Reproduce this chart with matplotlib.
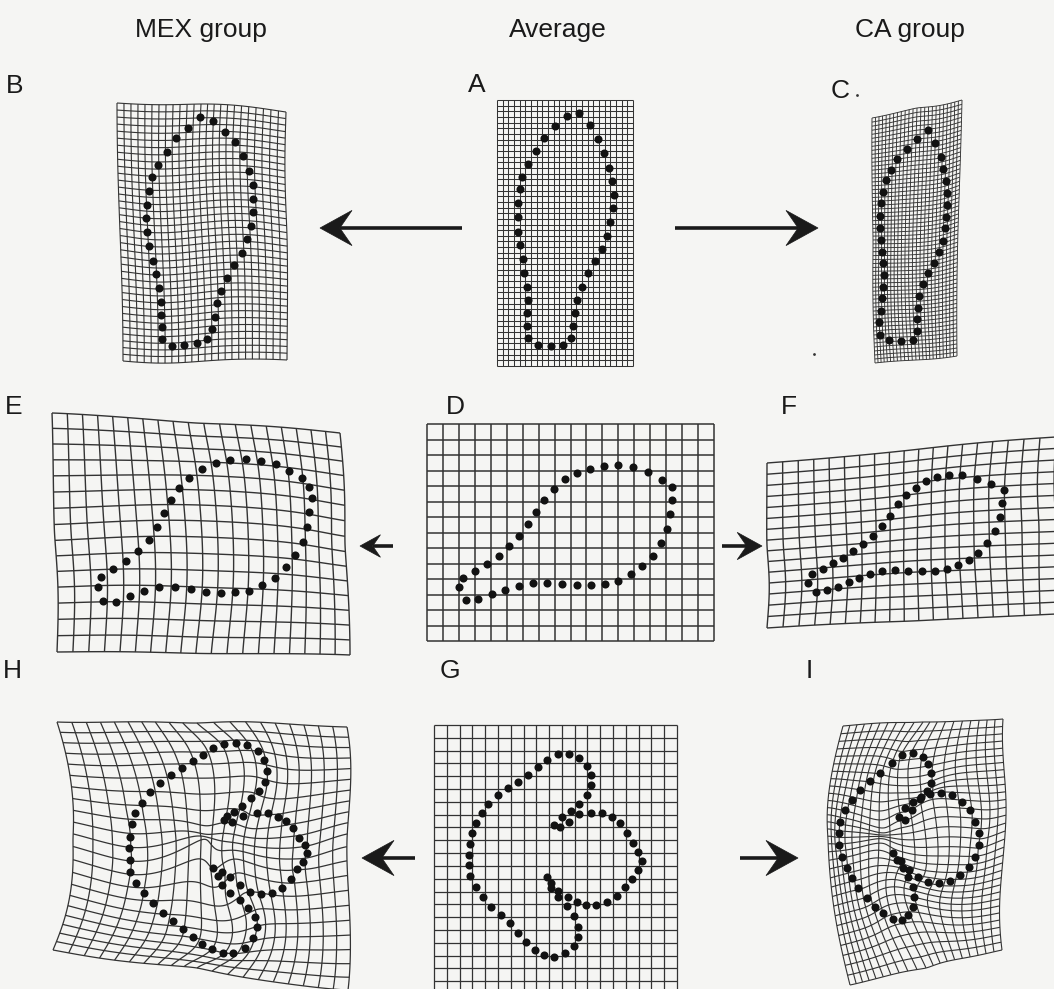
import numpy as np
import matplotlib
matplotlib.use("Agg")
import matplotlib.pyplot as plt
from matplotlib.collections import LineCollection
from matplotlib.patches import Polygon

# ---------------- data (landmark dots) ----------------
# each outline is given in crop coordinates (3x zoom) relative to a crop origin
A_org = (470, 70)
A_zx = [292,328,360,385,403,418,426,431,428,420,410,397,376,354,337,322,315,310,303,280,242,203,175,170,172,173,170,163,158,150,145,143,145,150,157,175,197,223,256]
A_zy = [137,130,165,207,250,293,333,375,415,457,497,537,573,610,650,690,728,768,805,825,828,826,805,768,728,690,650,610,568,525,485,442,400,358,320,282,242,205,168]

B_org = (90, 100)
B_zx = [330,370,404,434,460,478,488,490,490,482,470,455,432,412,393,380,375,367,350,320,283,245,215,215,212,212,208,198,188,178,172,168,170,178,186,205,230,258,293]
B_zy = [52,62,95,126,167,212,255,298,337,378,418,458,495,535,572,608,650,688,716,730,735,737,718,680,645,605,565,522,482,438,397,355,315,272,232,195,155,115,83]

C_org = (820, 90)
C_zx = [325,345,362,370,377,380,380,378,376,370,357,343,325,310,298,293,290,290,278,242,207,180,177,182,185,188,192,190,185,182,180,180,183,190,198,212,232,262,292]
C_zy = [120,158,200,238,272,308,345,380,415,452,485,518,550,583,618,653,688,722,750,752,750,735,695,662,625,590,555,520,485,450,413,378,340,305,270,240,208,178,148]

D_org = (425, 390)
D_zx = [455,495,537,580,625,670,710,740,740,735,725,707,683,650,618,580,540,497,455,410,367,323,282,240,200,160,122,103,115,150,185,222,253,283,308,333,358,388,420]
D_zy = [250,236,228,226,232,247,270,292,330,372,418,460,497,528,552,572,582,585,585,582,580,580,588,600,613,628,630,592,563,543,522,497,467,437,403,367,330,297,268]

E_org = (0, 390)
E_zx = [605,647,690,737,783,828,868,905,928,935,927,920,908,886,858,826,787,747,705,662,617,572,525,478,433,390,348,310,293,302,340,378,415,447,472,492,514,537,568]
E_zy = [238,220,211,208,212,222,242,265,292,323,367,410,455,496,532,565,585,602,607,609,605,598,591,592,604,619,636,634,592,560,538,514,484,450,410,370,330,293,263]

F_org = (740, 390)
F_zx = [498,527,557,590,627,667,710,752,793,785,780,766,742,715,687,655,622,585,545,505,465,427,390,358,326,293,260,228,205,217,250,280,310,340,370,398,425,450,475]
F_zy = [315,293,272,261,254,255,266,283,300,340,382,423,460,488,510,525,538,543,543,543,540,543,552,565,577,590,600,605,580,553,538,520,503,483,462,438,408,377,343]

G_org = (420, 640)
G_zx = [413,447,478,500,512,512,500,478,452,425,403,420,447,478,512,545,575,600,622,640,655,665,655,637,615,590,560,528,497,470,443,415,393,380,392,415,440,462,475,475,462,435,403,372,345,318,295,270,242,213,188,167,150,148,148,150,155,168,185,205,235,263,295,325,355,382]
G_zy = [343,343,353,378,405,435,465,492,512,532,555,562,545,522,518,520,530,550,578,608,635,662,690,717,742,768,785,795,795,785,772,752,730,712,745,772,798,828,860,890,918,940,950,945,930,905,878,850,825,800,770,740,708,675,645,612,580,550,520,492,465,445,425,405,382,360]
G_anchor = [0, 10, 21, 33, 42, 53]

H_org = (30, 640)
H_zx = [582,617,652,683,703,710,706,688,662,637,612,590,583,605,640,680,713,745,768,790,808,825,830,820,800,782,755,725,692,660,630,600,575,550,565,575,600,630,655,675,680,670,645,610,578,545,515,488,460,430,400,370,342,318,300,300,298,300,305,315,335,360,390,422,455,488,520,548]
H_zy = [312,308,315,333,360,393,425,452,475,497,515,528,540,545,527,518,518,530,543,565,595,615,640,665,688,718,745,758,762,755,735,712,695,683,708,735,760,780,803,830,862,893,925,940,940,928,912,890,868,842,818,790,760,728,695,660,625,590,553,520,488,455,428,405,385,362,345,325]
H_anchor = [0, 12, 22, 33, 44, 55]

I_org = (740, 640)
I_zx = [487,520,548,565,573,572,562,542,518,495,478,495,515,540,570,603,635,665,690,706,716,718,706,686,660,630,598,565,535,508,482,460,470,488,505,518,522,518,505,485,458,430,405,380,355,335,320,305,297,296,300,315,335,360,390,420,455]
I_zy = [345,340,350,372,400,428,452,470,485,505,530,540,510,478,462,458,465,485,510,545,580,615,650,680,705,722,730,725,712,690,662,638,660,685,712,742,772,800,825,840,838,820,800,775,745,715,685,650,615,580,545,510,480,450,422,398,370]
I_anchor = [0, 10, 21, 31, 39, 48]

# points where the warped grid lines pinch together (G source -> H / I pixel)
G_pinch = [(538, 832), (538, 851), (538, 870)]
H_pinch = [(207, 830), (207, 837), (207, 844)]
I_pinch = [(885, 830), (885, 836), (885, 842)]

# grid frames and grid line counts (cols, rows)
A_rect = (497, 100, 633, 366);  A_cells = (24, 47)
D_rect = (427, 424, 714, 641);  D_cells = (18, 14)
G_rect = (434, 725, 677, 994);  G_cells = (19, 21)
B_corners = [(117, 103), (286, 112), (287, 360), (123, 361)];  B_cells = (24, 37)
B_mids = [(201, 104), (287, 236), (205, 361), (120, 232)]
C_corners = [(872, 118), (962, 100), (957, 356), (875, 363)];  C_cells = (24, 62)
C_mids = [(917, 108), (958, 230), (916, 360), (873, 240)]
E_corners = [(52, 413), (340, 433), (350, 655), (57, 652)];    E_cells = (19, 15)
F_corners = [(767, 463), (1056, 437), (1056, 614), (767, 628)]; F_cells = (19, 15)
H_corners = [(57, 722), (347, 727), (348, 990), (53, 950)];    H_cells = (20, 21)
H_mids = [(197, 723), (347, 840), (197, 968), (73, 840)]
I_corners = [(843, 726), (1003, 719), (1002, 950), (850, 985)]; I_cells = (20, 31)
I_mids = [(923, 722), (1005, 835), (926, 968), (828, 840)]

headers = ["MEX group", "Average", "CA group"]
header_x = [201, 558, 910]
letters = ["B", "A", "C", "E", "D", "F", "H", "G", "I"]
letter_xy = [(6, 93), (468, 92), (831, 98), (5, 414), (446, 414), (781, 414), (3, 678), (440, 678), (806, 678)]
arrows = [((462, 228), (320, 228)), ((675, 228), (818, 228)),
          ((393, 546), (360, 546)), ((722, 546), (762, 546)),
          ((415, 858), (362, 858)), ((740, 858), (798, 858))]
specks_x = [857, 814]
specks_y = [95, 354]

# ---------------- helpers ----------------
def to_px(org, zx, zy):
    return np.column_stack([org[0] + np.asarray(zx) / 3.0, org[1] + np.asarray(zy) / 3.0])

def resample(poly, m):
    seg = np.linalg.norm(np.diff(poly, axis=0), axis=1)
    s = np.concatenate([[0], np.cumsum(seg)])
    t = np.linspace(0, s[-1], m + 1)[:-1]
    return np.column_stack([np.interp(t, s, poly[:, 0]), np.interp(t, s, poly[:, 1])])

def closed_resample(pts, anchors, counts):
    out = []
    n = len(pts)
    for k, a in enumerate(anchors):
        b = anchors[(k + 1) % len(anchors)]
        idx = list(range(a, b + 1)) if b > a else list(range(a, n)) + list(range(0, b + 1))
        out.append(resample(pts[idx], counts[k]))
    return np.vstack(out)

def U(r):
    with np.errstate(divide="ignore", invalid="ignore"):
        v = r * r * np.log(r)
    return np.nan_to_num(v)

def tps(src, dst, lam):
    n = len(src)
    K = U(np.linalg.norm(src[:, None] - src[None], axis=2))
    P = np.hstack([np.ones((n, 1)), src])
    L = np.zeros((n + 3, n + 3))
    L[:n, :n] = K + np.diag(lam)
    L[:n, n:] = P
    L[n:, :n] = P.T
    rhs = np.zeros((n + 3, 2))
    rhs[:n] = dst
    sol = np.linalg.solve(L, rhs)
    def f(q):
        Kq = U(np.linalg.norm(q[:, None] - src[None], axis=2))
        return Kq @ sol[:n] + np.hstack([np.ones((len(q), 1)), q]) @ sol[n:]
    return f

def normalize(pts, rect):
    x0, y0, x1, y1 = rect
    pts = np.asarray(pts, float)
    return np.column_stack([(pts[:, 0] - x0) / (x1 - x0), (pts[:, 1] - y0) / (y1 - y0)])

FRAME_SRC = np.array([[0, 0], [1, 0], [1, 1], [0, 1], [0.5, 0], [1, 0.5], [0.5, 1], [0, 0.5]], float)

def frame_dst(corners, mids=None):
    c = np.array(corners, float)
    if mids is None:
        mids = [(c[0] + c[1]) / 2, (c[1] + c[2]) / 2, (c[2] + c[3]) / 2, (c[3] + c[0]) / 2]
    return np.vstack([c, np.array(mids, float)])

def warp(src_lm, dst_lm, corners, mids, lam_lm, src_extra=None, dst_extra=None):
    srcs = [src_lm, FRAME_SRC]
    dsts = [dst_lm, frame_dst(corners, mids)]
    lams = [np.full(len(src_lm), lam_lm), np.zeros(len(FRAME_SRC))]
    if src_extra is not None:
        srcs.append(src_extra); dsts.append(np.asarray(dst_extra, float))
        lams.append(np.zeros(len(src_extra)))
    return tps(np.vstack(srcs), np.vstack(dsts), np.concatenate(lams))

def grid_lines(f, cells, nsamp=220):
    nc, nr = cells
    t = np.linspace(0, 1, nsamp)
    lines = []
    for u in np.linspace(0, 1, nc + 1):
        lines.append(f(np.column_stack([np.full_like(t, u), t])))
    for v in np.linspace(0, 1, nr + 1):
        lines.append(f(np.column_stack([t, np.full_like(t, v)])))
    return lines

def rect_map(rect):
    x0, y0, x1, y1 = rect
    return lambda q: np.column_stack([x0 + q[:, 0] * (x1 - x0), y0 + q[:, 1] * (y1 - y0)])

# ---------------- figure ----------------
W, Hh = 1054, 989
BG = "#f5f5f3"
fig = plt.figure(figsize=(W / 100, Hh / 100), dpi=100)
fig.patch.set_facecolor(BG)
ax = fig.add_axes([0, 0, 1, 1])
ax.set_xlim(0, W)
ax.set_ylim(Hh, 0)
ax.axis("off")

def draw_grid(lines, lw):
    ax.add_collection(LineCollection(lines, colors="#333333", linewidths=lw, zorder=1))

def draw_dots(p):
    ax.scatter(p[:, 0], p[:, 1], s=34, c="#121212", linewidths=0, zorder=3)

A = to_px(A_org, A_zx, A_zy); B = to_px(B_org, B_zx, B_zy); C = to_px(C_org, C_zx, C_zy)
D = to_px(D_org, D_zx, D_zy); E = to_px(E_org, E_zx, E_zy); F = to_px(F_org, F_zx, F_zy)
G = to_px(G_org, G_zx, G_zy); Hp = to_px(H_org, H_zx, H_zy); I = to_px(I_org, I_zx, I_zy)

def start_resample(p, key, m=40):
    p = np.roll(p, -int(key(p)), axis=0)
    return resample(np.vstack([p, p[:1]]), m)

top_rs = lambda p: start_resample(p, lambda q: np.argmin(q[:, 1]))
left_rs = lambda p: start_resample(p, lambda q: np.argmin(q[:, 0]))

rows = [
    (A, A_rect, A_cells, 0.75, 2.0,
     [(B, B_corners, B_mids, B_cells, 0.8), (C, C_corners, C_mids, C_cells, 0.65)], top_rs),
    (D, D_rect, D_cells, 1.1, 0.6,
     [(E, E_corners, None, E_cells, 1.0), (F, F_corners, None, F_cells, 1.0)], left_rs),
]
for avg, rect, cells, lw, lam, groups, rs in rows:
    draw_grid(grid_lines(rect_map(rect), cells), lw)
    draw_dots(avg)
    src = normalize(rs(avg), rect)
    for grp, corners, mids, gcells, glw in groups:
        f = warp(src, rs(grp), corners, mids, lam)
        draw_grid(grid_lines(f, gcells), glw)
        draw_dots(grp)

# Row 3 : multi-lobed outlines with matched anchors
counts = [G_anchor[k + 1] - G_anchor[k] for k in range(len(G_anchor) - 1)] + [len(G) - G_anchor[-1]]
draw_grid(grid_lines(rect_map(G_rect), G_cells), 0.9)
draw_dots(G)
srcG = normalize(closed_resample(G, G_anchor, counts), G_rect)
pinch_src = normalize(G_pinch, G_rect)
for grp, anc, corners, mids, gcells, glw, pinch in [(Hp, H_anchor, H_corners, H_mids, H_cells, 0.9, H_pinch),
                                                    (I, I_anchor, I_corners, I_mids, I_cells, 0.8, I_pinch)]:
    f = warp(srcG, closed_resample(grp, anc, counts), corners, mids, 1e-4, pinch_src, pinch)
    draw_grid(grid_lines(f, gcells), glw)
    draw_dots(grp)

# arrows with swept-back heads
for (tail, head) in arrows:
    t = np.array(tail, float); h = np.array(head, float)
    d = (h - t) / np.linalg.norm(h - t)
    n = np.array([-d[1], d[0]])
    L = min(32.0, 0.62 * np.linalg.norm(h - t))
    w = 0.55 * L
    notch = h - 0.62 * L * d
    ax.plot([t[0], notch[0]], [t[1], notch[1]], color="#1a1a1a", lw=2.6, solid_capstyle="butt", zorder=4)
    ax.add_patch(Polygon([h, h - L * d + w * n, notch, h - L * d - w * n], closed=True,
                         facecolor="#1a1a1a", edgecolor="#1a1a1a", lw=0.5, zorder=4))

ax.scatter(specks_x, specks_y, s=4, c="#333333", linewidths=0)

# text
FONT = ["Liberation Sans", "DejaVu Sans"]
for txt, x in zip(headers, header_x):
    ax.text(x, 37, txt, ha="center", va="baseline", fontsize=19, family=FONT, color="#1a1a1a")
for txt, (x, y) in zip(letters, letter_xy):
    ax.text(x, y, txt, ha="left", va="baseline", fontsize=19, family=FONT, color="#1a1a1a")

fig.savefig("out.png", dpi=100, facecolor=BG)
